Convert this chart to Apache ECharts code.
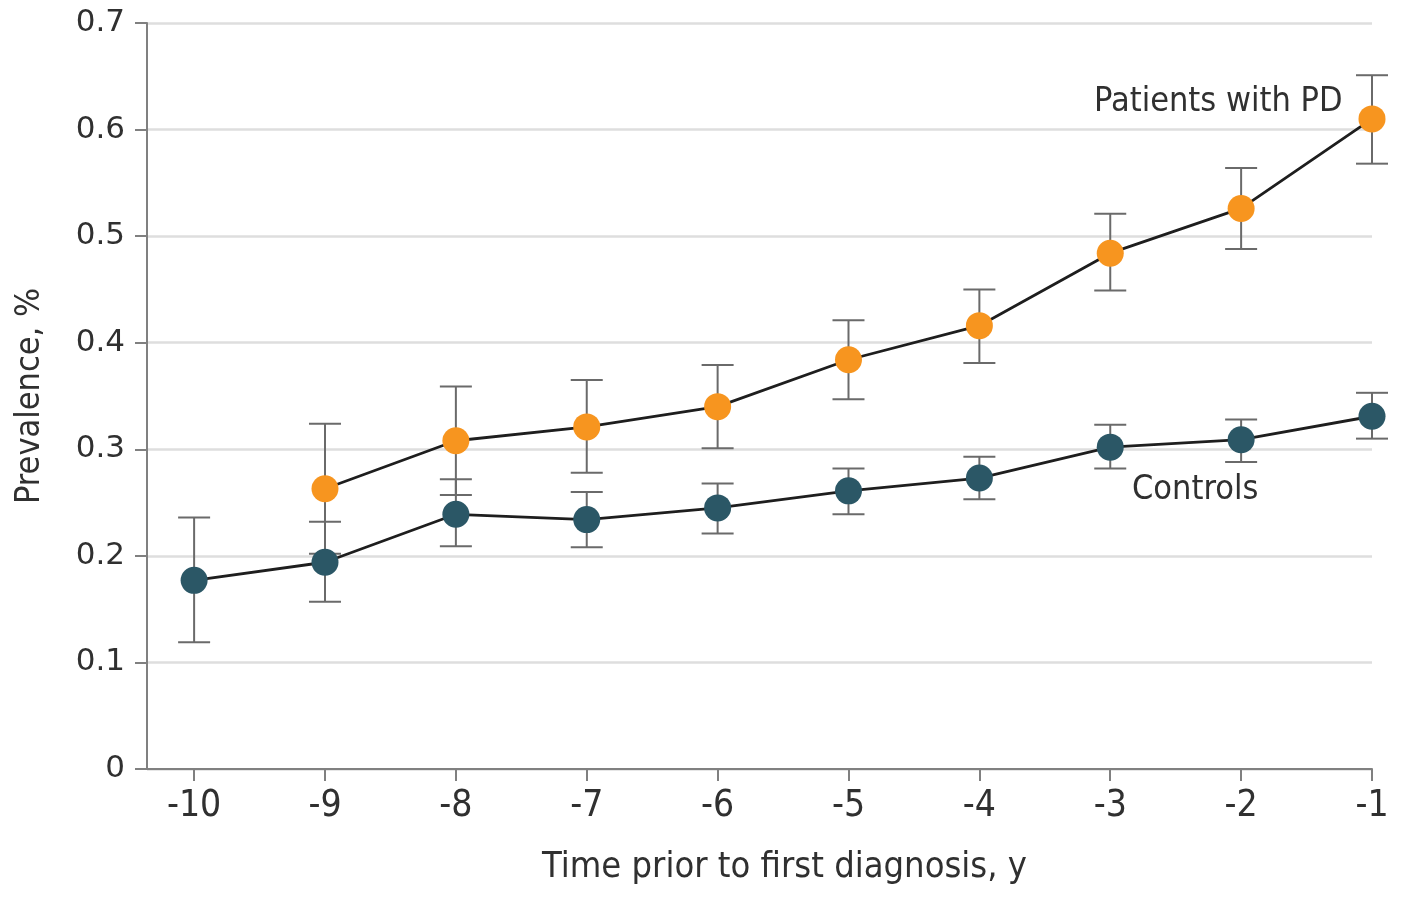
<!DOCTYPE html>
<html>
<head>
<meta charset="utf-8">
<script src="https://cdn.jsdelivr.net/npm/echarts@6/dist/echarts.min.js"></script>
<style>
  html, body { margin: 0; padding: 0; background: #fff; }
  #chart { width: 1409px; height: 901px; }
</style>
</head>
<body>
<div id="chart"></div>
<script>
// years before first diagnosis
const years = [-10, -9, -8, -7, -6, -5, -4, -3, -2, -1];

// Patients with PD (no value at -10)
const pdMean = [null, 0.263, 0.308, 0.321, 0.340, 0.384, 0.416, 0.484, 0.526, 0.610];
const pdLow  = [null, 0.202, 0.257, 0.278, 0.301, 0.347, 0.381, 0.449, 0.488, 0.568];
const pdHigh = [null, 0.324, 0.359, 0.365, 0.379, 0.421, 0.450, 0.521, 0.564, 0.651];

// Controls
const ctrlMean = [0.177, 0.194, 0.239, 0.234, 0.245, 0.261, 0.273, 0.302, 0.309, 0.331];
const ctrlLow  = [0.119, 0.157, 0.209, 0.208, 0.221, 0.239, 0.253, 0.282, 0.288, 0.310];
const ctrlHigh = [0.236, 0.232, 0.272, 0.260, 0.268, 0.282, 0.293, 0.323, 0.328, 0.353];

const yTicks = [0, 0.1, 0.2, 0.3, 0.4, 0.5, 0.6, 0.7];

const condensed = '"DejaVu Sans Condensed", "Liberation Sans Narrow", "DejaVu Sans", sans-serif';
const wide = '"DejaVu Sans", Verdana, sans-serif';
const textColor = '#303030';

function pairs(means) {
    return years.map((y, i) => means[i] == null ? null : [y, means[i]]).filter(p => p);
}
function bars(lo, hi) {
    return years.map((y, i) => lo[i] == null ? null : [y, lo[i], hi[i]]).filter(p => p);
}

// ------------------------------------------------------------------
// error bar drawing
function renderErrorBar(params, api) {
    let x = api.value(0);
    let lo = api.coord([x, api.value(1)]);
    let hi = api.coord([x, api.value(2)]);
    let half = 16;
    let style = { stroke: '#6a6a6a', lineWidth: 2 };
    return {
        type: 'group',
        children: [
            { type: 'line', shape: { x1: lo[0], y1: lo[1], x2: hi[0], y2: hi[1] }, style: style },
            { type: 'line', shape: { x1: lo[0] - half, y1: lo[1], x2: lo[0] + half, y2: lo[1] }, style: style },
            { type: 'line', shape: { x1: hi[0] - half, y1: hi[1], x2: hi[0] + half, y2: hi[1] }, style: style }
        ]
    };
}

function lineSeries(name, means, color) {
    return {
        name: name,
        type: 'line',
        data: pairs(means),
        symbol: 'circle',
        symbolSize: 27,
        z: 5,
        lineStyle: { color: '#1e1e1e', width: 2.8 },
        itemStyle: { color: color, borderWidth: 0 },
        emphasis: { disabled: true },
        animation: false
    };
}

let chart = echarts.init(document.getElementById('chart'));

let option = {
    backgroundColor: '#fff',
    animation: false,
    grid: { left: 147, top: 23, width: 1225, height: 746, containLabel: false },
    xAxis: {
        type: 'value',
        min: -10.36,
        max: -1,
        name: 'Time prior to first diagnosis, y',
        nameLocation: 'middle',
        nameGap: 81,
        nameTextStyle: { fontFamily: condensed, fontSize: 36, color: textColor, padding: [0, 0, 0, 50] },
        axisLine: { show: true, onZero: false, lineStyle: { color: '#808080', width: 2 } },
        axisTick: { show: true, length: 12, customValues: years, lineStyle: { color: '#808080', width: 2 } },
        axisLabel: { customValues: years, margin: 19, fontFamily: condensed, fontSize: 37, color: textColor },
        splitLine: { show: false }
    },
    yAxis: {
        type: 'value',
        min: 0,
        max: 0.7,
        interval: 0.1,
        name: 'Prevalence, %',
        nameLocation: 'middle',
        nameGap: 100,
        nameTextStyle: { fontFamily: condensed, fontSize: 34, color: textColor },
        axisLine: { show: true, lineStyle: { color: '#808080', width: 2 } },
        axisTick: { show: true, length: 12, lineStyle: { color: '#808080', width: 2 } },
        axisLabel: {
            margin: 22, fontFamily: wide, fontSize: 31, color: textColor,
            formatter: v => yTicks.includes(+v.toFixed(1)) ? String(+v.toFixed(1)) : ''
        },
        splitLine: { show: true, lineStyle: { color: '#dedede', width: 2.5 } }
    },
    series: [
        { type: 'custom', renderItem: renderErrorBar, data: bars(ctrlLow, ctrlHigh), z: 2, silent: true },
        { type: 'custom', renderItem: renderErrorBar, data: bars(pdLow, pdHigh), z: 2, silent: true },
        lineSeries('Controls', ctrlMean, '#2b5766'),
        lineSeries('Patients with PD', pdMean, '#f7951f')
    ],
    graphic: [
        { type: 'text', left: 1094, top: 85, style: { text: 'Patients with PD', fontFamily: condensed, fontSize: 34, fill: textColor } },
        { type: 'text', left: 1132, top: 473, style: { text: 'Controls', fontFamily: condensed, fontSize: 34, fill: textColor } }
    ]
};

chart.setOption(option);
</script>
</body>
</html>
